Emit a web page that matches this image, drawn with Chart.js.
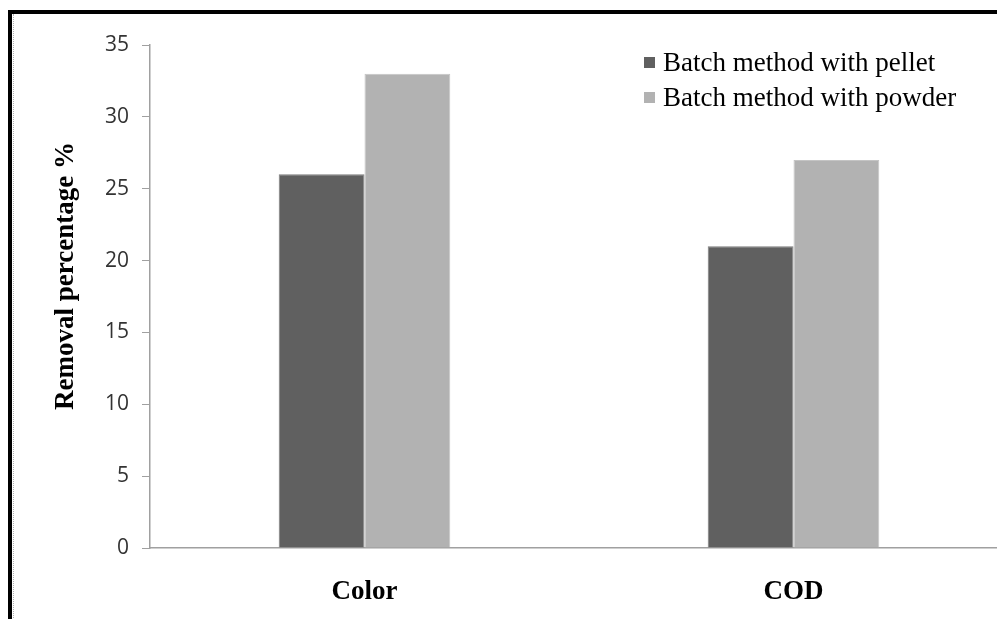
<!DOCTYPE html>
<html>
<head>
<meta charset="utf-8">
<script src="https://cdn.jsdelivr.net/npm/chart.js@4"></script>
<style>
  html, body { margin:0; padding:0; width:997px; height:619px; overflow:hidden; background:#fff; }
  #wrap { position:absolute; left:0; top:0; width:997px; height:619px; overflow:hidden; }
  canvas { position:absolute; left:0; top:0; }
  #frame { position:absolute; left:8px; top:10px; width:1200px; height:900px; border-left:4px solid #000; border-top:4px solid #000; pointer-events:none; }
  #dots { position:absolute; left:13px; top:14px; width:0; height:700px; border-left:1px dotted #b0b0b0; pointer-events:none; }
</style>
</head>
<body>
<div id="wrap">
  <canvas id="c" width="1008" height="619"></canvas>
  <div id="frame"></div>
  <div id="dots"></div>
</div>
<script>
const categories = ["Color", "COD"];
const seriesNames = ["Batch method with pellet", "Batch method with powder"];
const pelletValues = [26, 21];
const powderValues = [33, 27];
const yTickValues = [0, 5, 10, 15, 20, 25, 30, 35];
const yTitle = "Removal percentage %";

const overlay = {
  id: 'overlay',
  afterDraw(chart) {
    const ctx = chart.ctx;
    ctx.save();
    ctx.font = 'bold 27px "Liberation Serif", "Times New Roman", serif';
    ctx.fillStyle = '#000';
    ctx.textAlign = 'center';
    ctx.textBaseline = 'middle';
    ctx.translate(66, 276);
    ctx.rotate(-Math.PI / 2);
    ctx.fillText(yTitle, 0, 0);
    ctx.restore();
    ctx.save();
    ctx.font = '27px "Liberation Serif", "Times New Roman", serif';
    ctx.textBaseline = 'alphabetic';
    ctx.textAlign = 'left';
    chart.data.datasets.forEach((ds, i) => {
      const y = 71 + i * 35;
      ctx.fillStyle = ds.backgroundColor;
      ctx.fillRect(644, y - 14, 11, 11);
      ctx.fillStyle = '#000';
      ctx.fillText(ds.label, 663, y);
    });
    ctx.restore();
  }
};

new Chart(document.getElementById('c'), {
  type: 'bar',
  data: {
    labels: categories,
    datasets: [
      { label: seriesNames[0], data: pelletValues, backgroundColor: '#606060', borderColor: '#7c7c7c', borderWidth: 1 },
      { label: seriesNames[1], data: powderValues, backgroundColor: '#b2b2b2', borderColor: '#c4c4c4', borderWidth: 1 }
    ]
  },
  options: {
    responsive: false,
    animation: false,
    devicePixelRatio: 1,
    layout: { padding: { top: 45, left: 0, right: 0, bottom: 0 } },
    plugins: { legend: { display: false }, tooltip: { enabled: false } },
    datasets: { bar: { categoryPercentage: 0.4, barPercentage: 1.0 } },
    scales: {
      x: {
        grid: { display: false, drawTicks: false },
        border: { display: true, color: '#a0a0a0', width: 1.5 },
        ticks: {
          padding: 28,
          color: '#000',
          font: { family: '"Liberation Serif", "Times New Roman", serif', size: 27, weight: 'bold' }
        },
        afterFit(s) { s.height = 619 - 548; }
      },
      y: {
        min: 0, max: 35,
        afterBuildTicks(s) { s.ticks = yTickValues.map(v => ({ value: v })); },
        grid: { drawOnChartArea: false, drawTicks: true, tickLength: 8, color: '#a0a0a0', tickColor: '#a0a0a0' },
        border: { display: true, color: '#a0a0a0', width: 1.5 },
        ticks: {
          padding: 13,
          color: '#333333',
          font: { family: '"Open Sans", sans-serif', size: 21 }
        },
        afterFit(s) { s.width = 150; }
      }
    }
  },
  plugins: [overlay]
});
</script>
</body>
</html>
